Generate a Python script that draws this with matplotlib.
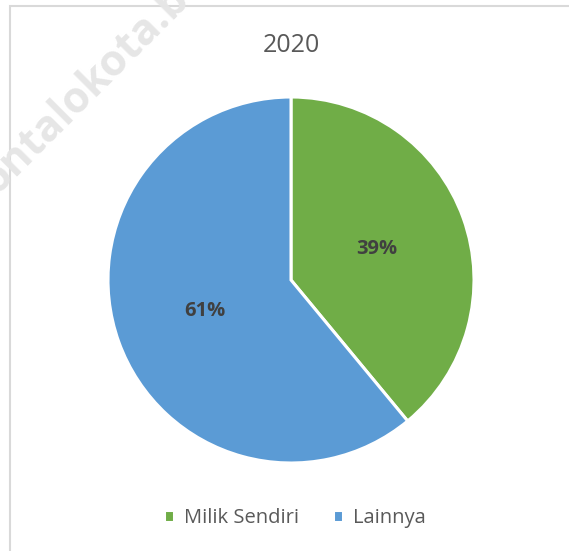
import matplotlib.pyplot as plt
from matplotlib.patches import Rectangle

# data
labels = ['Milik Sendiri', 'Lainnya']
values = [39, 61]
colors = ['#70AD47', '#5B9BD5']
title = '2020'

plt.rcParams['font.family'] = ['Open Sans', 'DejaVu Sans']

W, H = 569, 551
fig = plt.figure(figsize=(W / 100, H / 100), dpi=100)

# chart area border (cut off at right and bottom like the screenshot)
fig.patches.append(Rectangle((10 / W, -0.1), 1.2, 1 - 6 / H + 0.1,
                             transform=fig.transFigure, fill=False,
                             edgecolor='#d9d9d9', linewidth=1.5, zorder=0))

# pie axes: center (291, 280) px, radius 183 px
cx, cy, r = 291, 280, 183
ax = fig.add_axes([(cx - r) / W, (H - cy - r) / H, 2 * r / W, 2 * r / H])
wedges, texts, autotexts = ax.pie(
    values, colors=colors, startangle=90, counterclock=False,
    autopct='%1.0f%%', pctdistance=0.5, radius=1,
    wedgeprops=dict(edgecolor='white', linewidth=2.2),
    textprops=dict(color='#404040', fontsize=14.5, fontweight='bold'))
ax.set_xlim(-1, 1)
ax.set_ylim(-1, 1)
ax.set_aspect('auto')
ax.axis('off')

fig.text(291 / W, 1 - 46 / H, title, ha='center', va='center',
         fontsize=18, color='#595959')

leg = fig.legend(wedges, labels, loc='center', bbox_to_anchor=(295 / W, 1 - 518 / H),
                 ncol=2, frameon=False, fontsize=14.5, handlelength=0.5,
                 handleheight=0.5, handletextpad=0.5, columnspacing=1.7)
for t in leg.get_texts():
    t.set_color('#595959')

# faint watermark in the top-left corner
fig.text(-4 / W, 1 - 196 / H, 'ontalokota.b', rotation=45, rotation_mode='anchor',
         ha='left', va='baseline', fontsize=31, fontweight='bold',
         color='#e6e6e6', zorder=10)

fig.savefig('out.png', dpi=100)
